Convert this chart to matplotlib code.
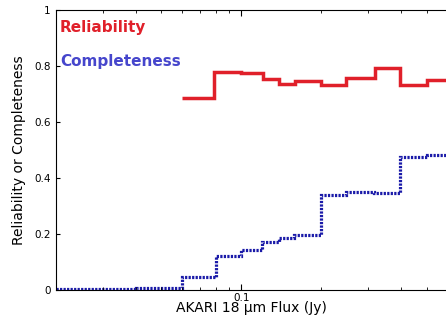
import matplotlib
matplotlib.use("Agg")
import matplotlib.pyplot as plt
from matplotlib.ticker import FuncFormatter, NullFormatter

# step histogram data
rel_edges = [0.06, 0.079, 0.1, 0.121, 0.139, 0.159, 0.2, 0.248, 0.32, 0.397, 0.5, 0.63]
rel_values = [0.686, 0.780, 0.774, 0.754, 0.735, 0.748, 0.733, 0.756, 0.794, 0.731, 0.749]

comp_edges = [0.02, 0.04, 0.06, 0.08, 0.1, 0.12, 0.139, 0.158, 0.2, 0.248, 0.316, 0.397, 0.5, 0.63]
comp_values = [0.003, 0.006, 0.045, 0.12, 0.143, 0.173, 0.185, 0.196, 0.339, 0.349, 0.345, 0.476, 0.482]

yticks = [0, 0.2, 0.4, 0.6, 0.8, 1]
xminor = [0.02, 0.03, 0.04, 0.05, 0.06, 0.07, 0.08, 0.09, 0.2, 0.3, 0.4, 0.5, 0.6]

red = "#e0202a"
blue_line = "#1a1aa8"
blue_text = "#4646cc"

fig = plt.figure(figsize=(4.46, 3.2), dpi=100)
ax = fig.add_axes([56 / 446, 30 / 320, 391.6 / 446, 280 / 320])

ax.stairs(rel_values, rel_edges, baseline=None, color=red, linewidth=2.5)
ax.stairs(comp_values, comp_edges, baseline=None, color=blue_line,
          linewidth=2.3, linestyle=(0, (0.7, 0.4)))

ax.set_xscale("log")
ax.set_xlim(0.02, 0.6)
ax.set_ylim(0, 1)

ax.set_xticks([0.1])
ax.set_xticklabels(["0.1"])
ax.set_xticks(xminor, minor=True)
ax.xaxis.set_minor_formatter(NullFormatter())
ax.set_yticks(yticks)
ax.yaxis.set_major_formatter(FuncFormatter(lambda v, p: "%g" % v))

ax.tick_params(axis="x", which="both", direction="in", top=True, labelsize=7.5, pad=2)
ax.tick_params(axis="x", which="major", length=4)
ax.tick_params(axis="x", which="minor", length=2.5)
ax.tick_params(axis="y", direction="in", length=3, labelsize=7.5, pad=4)
ax.spines["right"].set_visible(False)

ax.set_xlabel("AKARI 18 \u03bcm Flux (Jy)", fontsize=10, labelpad=-1)
ax.set_ylabel("Reliability or Completeness", fontsize=10, labelpad=6)

ax.text(0.01, 0.921, "Reliability", transform=ax.transAxes, color=red,
        fontsize=11, fontweight="bold", va="baseline")
ax.text(0.01, 0.80, "Completeness", transform=ax.transAxes, color=blue_text,
        fontsize=11, fontweight="bold", va="baseline")

fig.savefig("out.png", dpi=100)
